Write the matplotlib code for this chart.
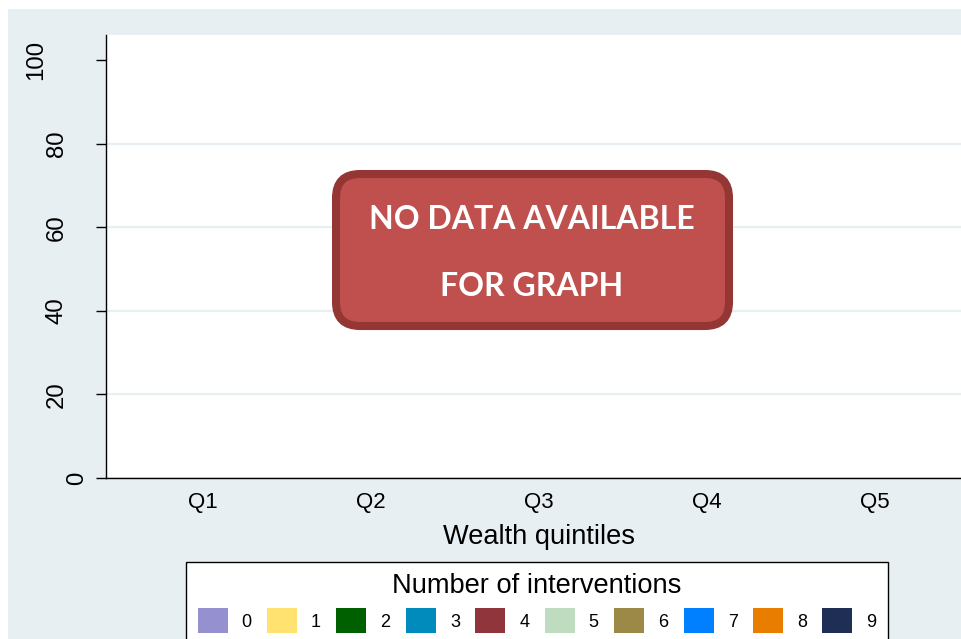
import matplotlib.pyplot as plt
from matplotlib.patches import FancyBboxPatch, Patch, Rectangle
from matplotlib.transforms import ScaledTranslation

# Categories on the x axis
quintiles = ["Q1", "Q2", "Q3", "Q4", "Q5"]

# Legend categories (number of interventions) and their colours
interventions = ["0", "1", "2", "3", "4", "5", "6", "7", "8", "9"]
colors = ["#9590d0", "#ffe270", "#006000", "#008bbc", "#90353b",
          "#c0dcc0", "#9c8847", "#0080ff", "#e87d00", "#1f2e55"]

# Y axis ticks
yticks = [0, 20, 40, 60, 80, 100]

bg = "#e8eff2"
plt.rcParams["font.family"] = ["Liberation Sans", "DejaVu Sans"]

fig = plt.figure(figsize=(9.61, 6.39), dpi=100)
fig.patch.set_facecolor("white")

# Light blue background of the graph region
fig.patches.append(Rectangle((8 / 961, 0), 1, 1 - 9 / 639, transform=fig.transFigure,
                             facecolor=bg, edgecolor="none", zorder=-5))

ax = fig.add_axes([106 / 961, 1 - 478 / 639, 866 / 961, 443 / 639])
ax.set_facecolor("white")

ax.set_xticks(range(len(quintiles)), quintiles)
ax.set_xlim(-0.577, len(quintiles) - 1 + 0.577)
ax.set_yticks(yticks)
ax.set_ylim(0, 106)

for s in ["top", "right"]:
    ax.spines[s].set_visible(False)
ax.spines["left"].set_linewidth(1)
ax.spines["bottom"].set_linewidth(1)

ax.tick_params(axis="x", length=0, pad=10, labelsize=16)
ax.tick_params(axis="y", length=7.2, width=1, labelleft=False)

# rotated y labels, offset from the axis grows with label length (Stata style)
for v in yticks:
    lab = str(v)
    off = (8 + 20.7 * len(lab)) / 100
    tr = ax.get_yaxis_transform() + ScaledTranslation(-off, 0, fig.dpi_scale_trans)
    ax.text(0, v, lab, transform=tr, rotation=90, ha="center", va="center",
            fontsize=17.3, clip_on=False)

ax.yaxis.grid(True, color=bg, linewidth=1.6)
ax.set_axisbelow(True)
ax.get_ygridlines()[-1].set_visible(False)

ax.set_xlabel("Wealth quintiles", fontsize=19.6, labelpad=8)

# Legend
handles = [Patch(facecolor=c, edgecolor="none") for c in colors]
leg = fig.legend(handles, interventions, ncol=len(interventions),
                 loc="upper center", bbox_to_anchor=(537 / 961, 1 - 562 / 639),
                 title="Number of interventions", fontsize=13, title_fontsize=19.6,
                 frameon=True, fancybox=False, edgecolor="black", framealpha=1,
                 borderaxespad=0, handlelength=1.66, handleheight=1.75,
                 handletextpad=0.78, columnspacing=0.85, borderpad=0.62)
leg.get_frame().set_linewidth(1)
leg.set_zorder(4)

# "No data" banner
box = FancyBboxPatch((3.36, 3.13), 3.93, 1.52,
                     boxstyle="round,pad=0,rounding_size=0.24",
                     transform=fig.dpi_scale_trans, facecolor="#c0504d",
                     edgecolor="#943634", linewidth=5.8, zorder=5)
fig.patches.append(box)
fig.text(532 / 961, 1 - 219 / 639, "NO DATA AVAILABLE", ha="center", va="center",
         color="white", fontsize=23, fontweight="bold", family="Lato", zorder=6)
fig.text(532 / 961, 1 - 287 / 639, "FOR GRAPH", ha="center", va="center",
         color="white", fontsize=23, fontweight="bold", family="Lato", zorder=6)

fig.savefig("out.png", dpi=100)
